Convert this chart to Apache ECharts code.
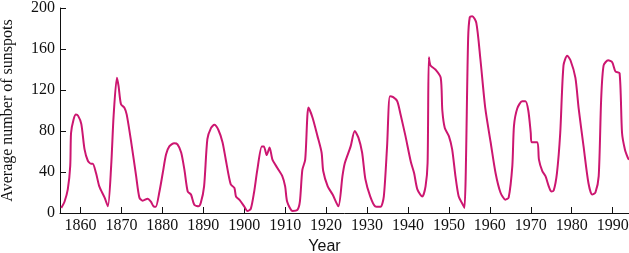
<!DOCTYPE html>
<html><head><meta charset="utf-8">
<script src="https://cdn.jsdelivr.net/npm/echarts@6/dist/echarts.min.js"></script>
<style>html,body{margin:0;padding:0;background:#fff}#c{width:629px;height:253px}</style>
</head><body><div id="c"></div>
<script>
const years = [1855.3,1856.1,1856.9,1857.5,1857.7,1858.3,1858.9,1859.4,1860.2,1861.0,1861.8,1862.6,1863.0,1863.8,1864.6,1865.9,1866.7,1867.5,1868.1,1868.9,1869.3,1869.9,1870.7,1871.3,1872.4,1873.6,1874.4,1875.2,1876.4,1877.2,1878.0,1878.4,1879.3,1880.1,1880.9,1881.7,1882.9,1883.7,1884.6,1885.4,1886.2,1887.0,1887.8,1888.8,1889.4,1890.2,1891.0,1891.9,1892.7,1893.7,1894.7,1895.5,1896.7,1897.6,1898.0,1898.8,1900.0,1900.8,1901.6,1902.4,1903.2,1904.3,1904.8,1905.5,1906.2,1906.9,1908.1,1909.3,1910.0,1910.5,1911.8,1913.0,1913.6,1914.2,1914.9,1915.7,1916.7,1917.9,1918.9,1919.3,1920.4,1921.6,1923.0,1924.0,1924.6,1926.0,1927.0,1927.9,1928.8,1929.6,1930.8,1932.0,1933.3,1934.1,1934.9,1935.6,1936.4,1937.4,1938.2,1939.4,1940.7,1941.5,1942.3,1943.5,1944.3,1944.8,1945.1,1945.5,1946.7,1948.0,1948.4,1949.0,1950.0,1950.8,1951.6,1952.4,1953.3,1953.8,1954.7,1955.1,1955.7,1956.7,1957.7,1958.9,1960.2,1961.4,1962.6,1963.8,1964.6,1965.5,1965.9,1966.7,1967.9,1968.7,1969.4,1970.0,1970.2,1971.6,1972.0,1972.8,1973.6,1974.4,1975.0,1975.6,1976.4,1977.2,1978.0,1978.9,1979.7,1980.9,1981.7,1982.9,1984.1,1985.0,1985.8,1986.6,1987.2,1987.8,1988.9,1989.9,1990.7,1991.7,1992.3,1993.0,1993.7,1994.0];
const sunspots = [5,11,23,46,78,91,96,95,87,62,51,48,48,39,26,15,6.5,46,95,132,124,106,103,96,69,36,15,12,14,11,6,6,21,39,57,65,68,67,59,42,21,18,8,6.5,10,26,72,83,86,81,69,52,28,24.5,16,13,6.5,2,4,20,42,65,65,56.5,64,52,44,36,26,11,2,3,11,42,52,103,93,75,59,41,26,18,6.5,36,49,65,80,73.5,59,33,16,6.5,6,16,65,114,113,109,96,75,50,39,23,16,26,49,152,144,140,132,100,83,75,62,36,16,9,5,170,191,192,185.5,150,102,69,39,20,13,15,46,85,102,109,109,100,78,69,69,52,41,36,26,21,22,39,78,144,153.5,149,132,102,65,29,18,20,36,111,144,149,147,138,136.5,78,62,54,52];
const xTicks = [1860,1870,1880,1890,1900,1910,1920,1930,1940,1950,1960,1970,1980,1990];
const yTicks = [0,40,80,120,160,200];

const chart = echarts.init(document.getElementById('c'), null, {renderer:'canvas'});
const serif = '"Liberation Serif","DejaVu Serif",serif';
chart.setOption({
  animation:false,
  grid:{left:60,right:0,top:8,bottom:40,containLabel:false,outerBoundsMode:'none'},
  xAxis:{
    type:'value',min:1855,max:1994,
    name:'Year',nameLocation:'middle',nameGap:24,
    nameTextStyle:{fontFamily:'"Liberation Sans",Arial,sans-serif',fontSize:16,color:'#111',padding:[0,40,0,0]},
    axisLine:{show:true,lineStyle:{color:'#111',width:1}},
    axisTick:{show:true,inside:true,length:6,customValues:xTicks,lineStyle:{color:'#111'}},
    axisLabel:{customValues:xTicks,fontFamily:serif,fontSize:16,color:'#111',margin:5,formatter:v=>String(v)},
    splitLine:{show:false}
  },
  yAxis:{
    type:'value',min:0,max:200,interval:40,
    name:'Average number of sunspots',nameLocation:'middle',nameGap:44,
    nameTextStyle:{fontFamily:serif,fontSize:16,color:'#111'},
    axisLine:{show:true,lineStyle:{color:'#111',width:1}},
    axisTick:{show:true,inside:true,length:6,customValues:yTicks,lineStyle:{color:'#111'}},
    axisLabel:{customValues:yTicks,fontFamily:serif,fontSize:16,color:'#111',margin:5,formatter:v=>String(v)},
    splitLine:{show:false}
  },
  series:[{
    type:'line',
    data:years.map((y,i)=>[y,sunspots[i]]),
    smooth:0.25,
    showSymbol:false,
    lineStyle:{color:'#cc1670',width:2},
    clip:true
  }]
});
</script></body></html>
